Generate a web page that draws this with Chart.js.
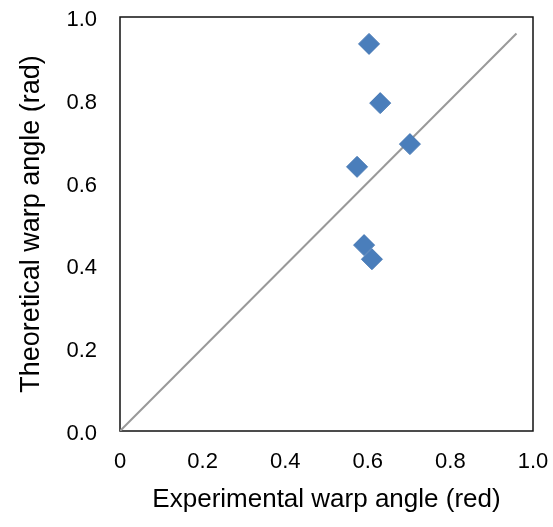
<!DOCTYPE html>
<html><head><meta charset="utf-8">
<script src="https://cdn.jsdelivr.net/npm/chart.js@4"></script>
<style>html,body{margin:0;padding:0;background:#fff}#wrap{width:553px;height:527px}</style>
</head><body><div id="wrap"><canvas id="c"></canvas></div>
<script>
const experimental = [0.603, 0.630, 0.702, 0.574, 0.591, 0.610];
const theoretical = [0.935, 0.792, 0.693, 0.638, 0.449, 0.415];
const refLineX = [0, 0.96];
const refLineY = [0, 0.96];
const tickValues = [0, 0.2, 0.4, 0.6, 0.8, 1.0];

const frame = {
  id: 'frame',
  beforeDatasetsDraw(chart) {
    const a = chart.chartArea, ctx = chart.ctx;
    ctx.save();
    ctx.strokeStyle = '#111';
    ctx.lineWidth = 1.5;
    ctx.strokeRect(a.left, a.top, a.right - a.left, a.bottom - a.top);
    ctx.restore();
  }
};

new Chart(document.getElementById('c'), {
  type: 'scatter',
  data: {
    datasets: [
      {
        label: 'ref',
        data: refLineX.map((x, i) => ({x, y: refLineY[i]})),
        showLine: true,
        borderColor: '#999999',
        borderWidth: 2,
        pointRadius: 0,
        order: 2
      },
      {
        label: 'data',
        data: experimental.map((x, i) => ({x, y: theoretical[i]})),
        pointStyle: 'rectRot',
        pointRadius: 10.5,
        backgroundColor: '#4a7ebb',
        borderColor: '#4577b3',
        borderWidth: 1,
        order: 1
      }
    ]
  },
  options: {
    responsive: true,
    maintainAspectRatio: false,
    animation: false,
    layout: { padding: { top: 17, right: 20, left: 0, bottom: 0 } },
    plugins: { legend: { display: false }, tooltip: { enabled: false } },
    scales: {
      x: {
        type: 'linear', min: 0, max: 1,
        afterBuildTicks(s) { s.ticks = tickValues.map(v => ({value: v})); },
        afterFit(s) { s.height = 96; s.paddingLeft = 0; s.paddingRight = 0; },
        grid: { display: false, drawTicks: false },
        border: { display: false },
        ticks: {
          padding: 18,
          color: '#000',
          font: { family: 'Liberation Sans', size: 22 },
          callback: v => v === 0 ? '0' : v.toFixed(1)
        },
        title: {
          display: true, text: 'Experimental warp angle (red)',
          color: '#000',
          font: { family: 'Liberation Sans', size: 26 },
          padding: { top: 0, bottom: 12 }
        }
      },
      y: {
        type: 'linear', min: 0, max: 1,
        afterBuildTicks(s) { s.ticks = tickValues.map(v => ({value: v})); },
        afterFit(s) { s.width = 120; s.paddingTop = 0; s.paddingBottom = 0; },
        grid: { display: false, drawTicks: false },
        border: { display: false },
        ticks: {
          padding: 23,
          labelOffset: 3,
          color: '#000',
          font: { family: 'Liberation Sans', size: 22 },
          callback: v => v.toFixed(1)
        },
        title: {
          display: true, text: 'Theoretical warp angle (rad)',
          color: '#000',
          font: { family: 'Liberation Sans', size: 27 },
          padding: { top: 15, bottom: 0 }
        }
      }
    }
  },
  plugins: [frame]
});
</script></body></html>
